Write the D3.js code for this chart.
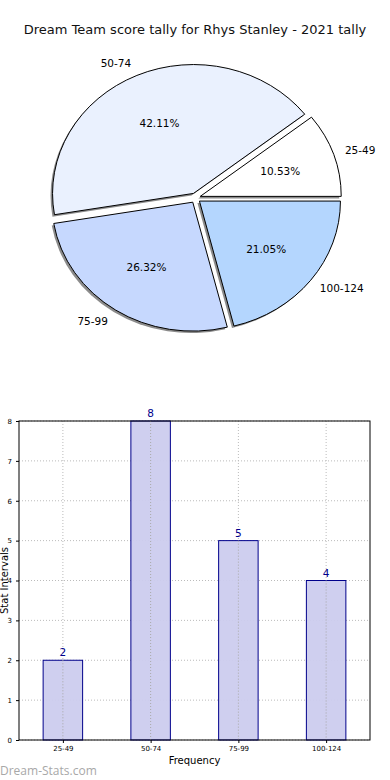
<!DOCTYPE html>
<html><head><meta charset="utf-8">
<script src="https://cdn.jsdelivr.net/npm/d3@7"></script>
<style>body{margin:0;background:#fff;} svg{display:block;font-family:"DejaVu Sans",sans-serif;}</style>
</head><body>
<svg id="c" width="390" height="780"></svg>
<script>
const title = "Dream Team score tally for Rhys Stanley - 2021 tally";
const categories = ["25-49", "50-74", "75-99", "100-124"];
const counts = [2, 8, 5, 4];
const pieColors = ["#ffffff", "#eaf1fe", "#c6d8fe", "#b4d6fe"];
const yTicks = [0, 1, 2, 3, 4, 5, 6, 7, 8];

const svg = d3.select("#c");
svg.append("text").attr("x", 195).attr("y", 34).attr("text-anchor", "middle")
  .attr("font-size", 13).attr("fill", "#111").text(title);

// ---- Pie ----
const cx = 195.5, cy = 198, rx = 141, ry = 129, explode = 5;
const total = d3.sum(counts);
const pie = d3.pie().sort(null).startAngle(Math.PI / 2).endAngle(Math.PI / 2 - 2 * Math.PI);
const arcs = pie(counts);
const arcGen = d3.arc().innerRadius(0).outerRadius(1);
const g = svg.append("g");
arcs.forEach((a, i) => {
  const mid = (a.startAngle + a.endAngle) / 2;
  const dx = Math.sin(mid) * explode, dy = -Math.cos(mid) * explode;
  const path = arcGen({startAngle: a.startAngle, endAngle: a.endAngle});
  const tr = `translate(${cx + dx},${cy + dy}) scale(${rx},${ry})`;
  g.append("path").attr("d", path).attr("transform", `translate(${cx + dx - 2},${cy + dy + 2}) scale(${rx},${ry})`)
    .attr("fill", "#777").attr("opacity", 0.85);
  g.append("path").attr("d", path).attr("transform", tr)
    .attr("fill", pieColors[i]).attr("stroke", "#000").attr("stroke-width", 1)
    .attr("vector-effect", "non-scaling-stroke");
});
arcs.forEach((a, i) => {
  const mid = (a.startAngle + a.endAngle) / 2;
  const sx = Math.sin(mid), sy = -Math.cos(mid);
  const dx = sx * explode, dy = sy * explode;
  const pct = (counts[i] / total * 100).toFixed(2) + "%";
  g.append("text").attr("x", cx + dx + 0.6 * rx * sx).attr("y", cy + dy + 0.6 * ry * sy)
    .attr("text-anchor", "middle").attr("dominant-baseline", "central")
    .attr("font-size", 10.5).attr("fill", "#000").text(pct);
  g.append("text").attr("x", cx + dx + 1.1 * rx * sx - (sx > 0 ? 2 : 0)).attr("y", cy + dy + 1.1 * ry * sy)
    .attr("text-anchor", sx > 0 ? "start" : "end").attr("dominant-baseline", "central")
    .attr("font-size", 10.5).attr("fill", "#000").text(categories[i]);
});

// ---- Bar chart ----
const L = 19, R = 370, T = 421, B = 740;
const x = d3.scaleLinear().domain([-0.5, categories.length - 0.5]).range([L, R]);
const y = d3.scaleLinear().domain([0, 8]).range([B, T]);
const bw = 0.45;
const bg = svg.append("g");
yTicks.forEach(t => {
  bg.append("line").attr("x1", L).attr("x2", R).attr("y1", y(t)).attr("y2", y(t))
    .attr("stroke", "#bbb").attr("stroke-width", 1).attr("stroke-dasharray", "1,2");
});
categories.forEach((c, i) => {
  bg.append("line").attr("x1", x(i)).attr("x2", x(i)).attr("y1", T).attr("y2", B)
    .attr("stroke", "#bbb").attr("stroke-width", 1).attr("stroke-dasharray", "1,2");
});
bg.selectAll("rect.bar").data(counts).join("rect").attr("class", "bar")
  .attr("x", (d, i) => x(i - bw / 2)).attr("width", (d, i) => x(i + bw / 2) - x(i - bw / 2))
  .attr("y", d => y(d)).attr("height", d => B - y(d))
  .attr("fill", "#ccccee").attr("fill-opacity", 0.95).attr("stroke", "#00008b").attr("stroke-width", 1);
categories.forEach((c, i) => {
  bg.append("line").attr("x1", x(i)).attr("x2", x(i)).attr("y1", y(counts[i])).attr("y2", B)
    .attr("stroke", "#aaa").attr("stroke-width", 1).attr("stroke-dasharray", "1,2");
});
bg.selectAll("text.val").data(counts).join("text").attr("class", "val")
  .attr("x", (d, i) => x(i)).attr("y", d => y(d) - 4).attr("text-anchor", "middle")
  .attr("font-size", 10.5).attr("fill", "#00008b").text(d => d);
const yAxis = d3.axisLeft(y).tickValues(yTicks).tickSize(3).tickPadding(4);
const ya = bg.append("g").attr("transform", `translate(${L},0)`).call(yAxis);
ya.selectAll("text").attr("font-size", 7).attr("font-family", "DejaVu Sans");
const xAxis = d3.axisBottom(x).tickValues(categories.map((c, i) => i)).tickFormat(i => categories[i]).tickSize(3).tickPadding(3);
const xa = bg.append("g").attr("transform", `translate(0,${B})`).call(xAxis);
xa.selectAll("text").attr("font-size", 7).attr("font-family", "DejaVu Sans");
[ya, xa].forEach(a => a.select(".domain").remove());
bg.append("rect").attr("x", L).attr("y", T).attr("width", R - L).attr("height", B - T)
  .attr("fill", "none").attr("stroke", "#000").attr("stroke-width", 1);
bg.append("text").attr("x", (L + R) / 2).attr("y", 764).attr("text-anchor", "middle")
  .attr("font-size", 10).text("Frequency");
bg.append("text").attr("transform", `translate(4,${(T + B) / 2}) rotate(-90)`).attr("text-anchor", "middle")
  .attr("font-size", 10).attr("dominant-baseline", "central").text("Stat Intervals");
svg.append("text").attr("x", 0).attr("y", 775).attr("font-size", 12)
  .attr("fill", "#a8a8a8").attr("font-family", "'Open Sans', sans-serif").text("Dream-Stats.com");
</script>
</body></html>
